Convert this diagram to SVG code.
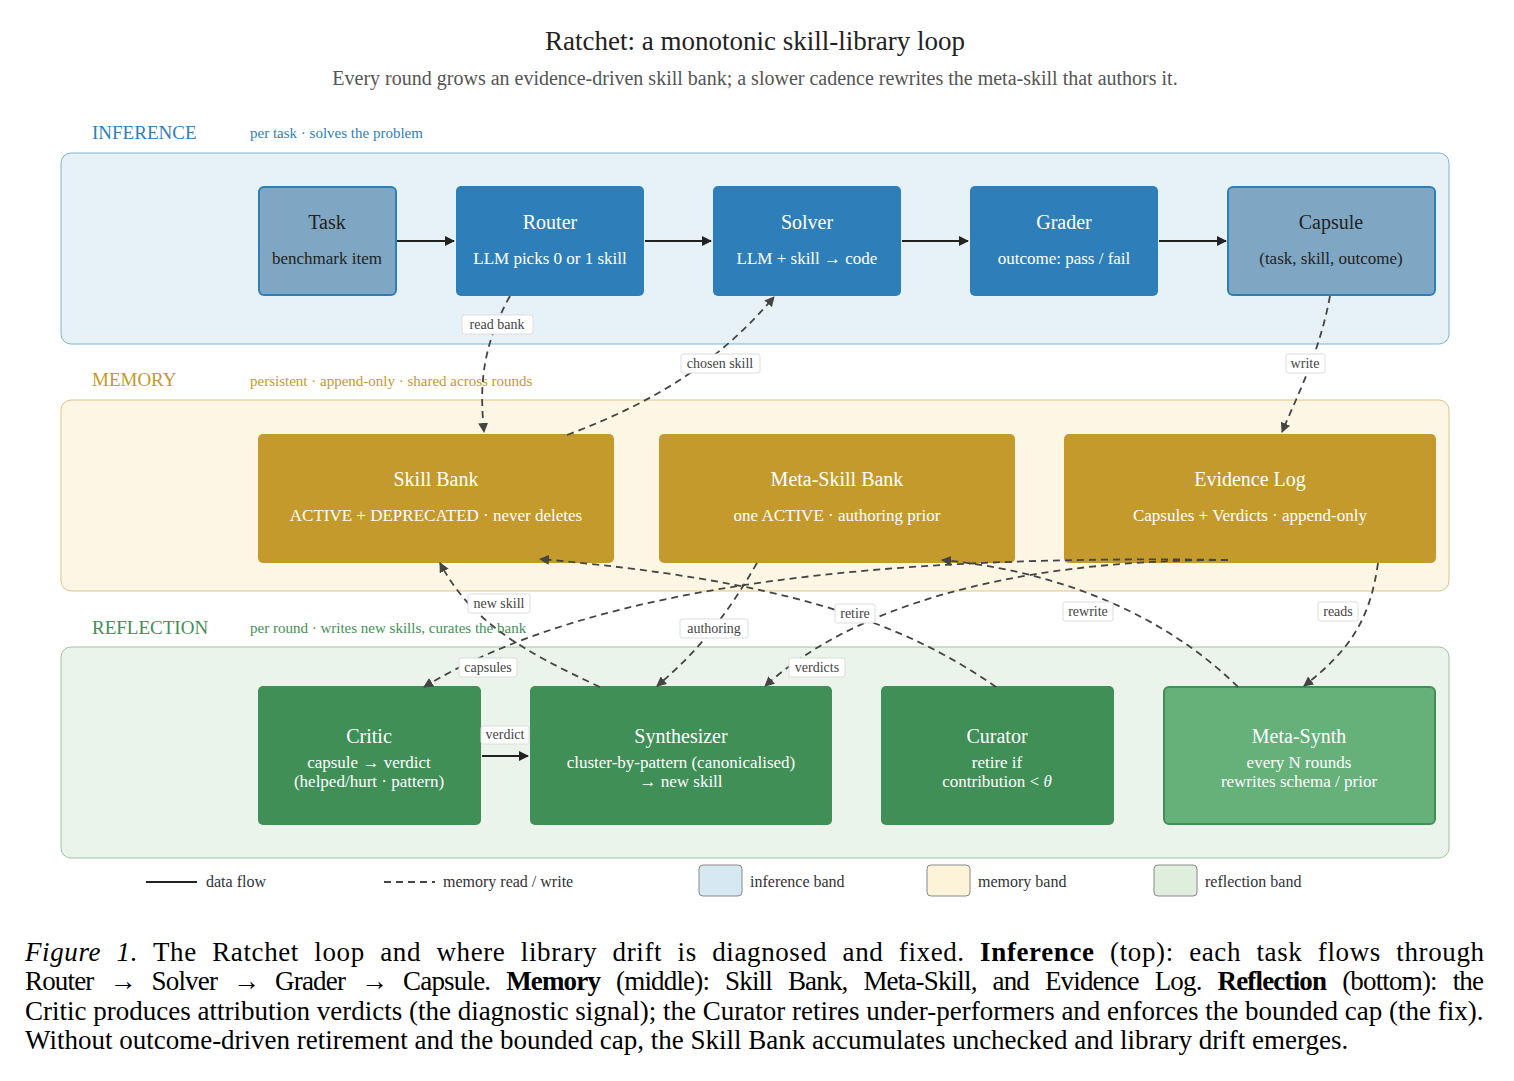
<svg xmlns="http://www.w3.org/2000/svg" width="1514" height="1081" viewBox="0 0 1514 1081">
<defs>
<marker id="ah" viewBox="0 0 10 10" refX="9" refY="5" markerWidth="10" markerHeight="10" markerUnits="userSpaceOnUse" orient="auto"><path d="M0,0L10,5L0,10z" fill="#222"/></marker>
<marker id="ahd" viewBox="0 0 10 10" refX="9" refY="5" markerWidth="10" markerHeight="10" markerUnits="userSpaceOnUse" orient="auto"><path d="M0,0L10,5L0,10z" fill="#444"/></marker>
<style>
text{font-family:"Liberation Serif","DejaVu Serif",serif}
.t{font-size:20px;text-anchor:middle}
.s{font-size:17px;text-anchor:middle}
.w{fill:#fff}
.k{fill:#222}
.lab{font-size:14px;fill:#444;text-anchor:middle}
.lb{fill:#fff;stroke:#ddd;stroke-width:1}
.solid{stroke:#222;stroke-width:2.2;fill:none;marker-end:url(#ah)}
.dash{stroke:#444;stroke-width:1.8;fill:none;stroke-dasharray:7,5;marker-end:url(#ahd)}
.leg{font-size:16px;fill:#333}
.cap{font-size:27px;fill:#000}
</style>
</defs>
<rect width="1514" height="1081" fill="#fff"/>
<text x="755" y="50" font-size="27" text-anchor="middle" fill="#222">Ratchet: a monotonic skill-library loop</text>
<text x="755" y="85" font-size="20" text-anchor="middle" fill="#555">Every round grows an evidence-driven skill bank; a slower cadence rewrites the meta-skill that authors it.</text>

<g id="bands">
<rect x="61" y="153" width="1388" height="191" rx="10" fill="#e7f2f8" stroke="#7fb3d5"/>
<rect x="61" y="400" width="1388" height="191" rx="10" fill="#fdf6e4" stroke="#dcc58a"/>
<rect x="61" y="647" width="1388" height="211" rx="10" fill="#ebf4eb" stroke="#9cc4a0"/>
<text x="92" y="139" font-size="19" fill="#2e7fb9">INFERENCE</text>
<text x="250" y="138" font-size="15" fill="#2e7fb9">per task · solves the problem</text>
<text x="92" y="386" font-size="19" fill="#c49a2c">MEMORY</text>
<text x="250" y="386" font-size="15" fill="#c49a2c">persistent · append-only · shared across rounds</text>
<text x="92" y="634" font-size="19" fill="#3f8f57">REFLECTION</text>
<text x="250" y="633" font-size="15" fill="#3f8f57">per round · writes new skills, curates the bank</text>
</g>

<g id="task"><rect x="259" y="187" width="137" height="108" rx="5" fill="#7fa7c4" stroke="#2e7fb9" stroke-width="2"/><text class="t k" x="327" y="229">Task</text><text class="s k" x="327" y="264">benchmark item</text></g>
<g id="router"><rect x="456" y="186" width="188" height="110" rx="5" fill="#2e7fb9"/><text class="t w" x="550" y="229">Router</text><text class="s w" x="550" y="264">LLM picks 0 or 1 skill</text></g>
<g id="solver"><rect x="713" y="186" width="188" height="110" rx="5" fill="#2e7fb9"/><text class="t w" x="807" y="229">Solver</text><text class="s w" x="807" y="264">LLM + skill → code</text></g>
<g id="grader"><rect x="970" y="186" width="188" height="110" rx="5" fill="#2e7fb9"/><text class="t w" x="1064" y="229">Grader</text><text class="s w" x="1064" y="264">outcome: pass / fail</text></g>
<g id="capsule"><rect x="1228" y="187" width="207" height="108" rx="5" fill="#7fa7c4" stroke="#2e7fb9" stroke-width="2"/><text class="t k" x="1331" y="229">Capsule</text><text class="s k" x="1331" y="264">(task, skill, outcome)</text></g>

<g id="skillbank"><rect x="258" y="434" width="356" height="129" rx="5" fill="#c49a2c"/><text class="t w" x="436" y="486">Skill Bank</text><text class="s w" x="436" y="521">ACTIVE + DEPRECATED · never deletes</text></g>
<g id="metaskill"><rect x="659" y="434" width="356" height="129" rx="5" fill="#c49a2c"/><text class="t w" x="837" y="486">Meta-Skill Bank</text><text class="s w" x="837" y="521">one ACTIVE · authoring prior</text></g>
<g id="evidence"><rect x="1064" y="434" width="372" height="129" rx="5" fill="#c49a2c"/><text class="t w" x="1250" y="486">Evidence Log</text><text class="s w" x="1250" y="521">Capsules + Verdicts · append-only</text></g>

<g id="critic"><rect x="258" y="686" width="223" height="139" rx="5" fill="#3f8f57"/><text class="t w" x="369" y="743">Critic</text><text class="s w" x="369" y="768">capsule → verdict</text><text class="s w" x="369" y="787">(helped/hurt · pattern)</text></g>
<g id="synth"><rect x="530" y="686" width="302" height="139" rx="5" fill="#3f8f57"/><text class="t w" x="681" y="743">Synthesizer</text><text class="s w" x="681" y="768">cluster-by-pattern (canonicalised)</text><text class="s w" x="681" y="787">→ new skill</text></g>
<g id="curator"><rect x="881" y="686" width="233" height="139" rx="5" fill="#3f8f57"/><text class="t w" x="997" y="743">Curator</text><text class="s w" x="997" y="768">retire if</text><text class="s w" x="997" y="787">contribution &lt; <tspan font-style="italic">θ</tspan></text></g>
<g id="metasynth"><rect x="1164" y="687" width="271" height="137" rx="5" fill="#66b07a" stroke="#3f8f57" stroke-width="2"/><text class="t w" x="1299" y="743">Meta-Synth</text><text class="s w" x="1299" y="768">every N rounds</text><text class="s w" x="1299" y="787">rewrites schema / prior</text></g>

<g id="connectors">
<path class="solid" d="M397,241H454"/>
<path class="solid" d="M645,241H711"/>
<path class="solid" d="M902,241H968"/>
<path class="solid" d="M1159,241H1226"/>
<path class="solid" d="M482,756H528"/>
<path class="dash" d="M510,296C480,350 480,390 484,432"/>
<path class="dash" d="M567,435C660,400 720,360 774,297"/>
<path class="dash" d="M1330,296C1320,350 1300,390 1282,432"/>
<path class="dash" d="M600,687C520,650 470,620 440,563"/>
<path class="dash" d="M757,563C730,610 700,650 657,686"/>
<path class="dash" d="M996,687C900,620 780,580 540,559"/>
<path class="dash" d="M1238,687C1160,610 1050,570 942,560"/>
<path class="dash" d="M1378,563C1370,620 1350,650 1304,686"/>
<path class="dash" d="M1228,560C900,555 600,580 424,687"/>
<path class="dash" d="M1228,560C1000,560 850,610 765,686"/>
<rect class="lb" x="462" y="315" width="71" height="19" rx="2"/><text class="lab" x="497" y="329">read bank</text>
<rect class="lb" x="681" y="354" width="79" height="19" rx="2"/><text class="lab" x="720" y="368">chosen skill</text>
<rect class="lb" x="1286" y="354" width="39" height="19" rx="2"/><text class="lab" x="1305" y="368">write</text>
<rect class="lb" x="468" y="594" width="62" height="19" rx="2"/><text class="lab" x="499" y="608">new skill</text>
<rect class="lb" x="680" y="619" width="68" height="19" rx="2"/><text class="lab" x="714" y="633">authoring</text>
<rect class="lb" x="835" y="604" width="40" height="19" rx="2"/><text class="lab" x="855" y="618">retire</text>
<rect class="lb" x="1063" y="602" width="50" height="19" rx="2"/><text class="lab" x="1088" y="616">rewrite</text>
<rect class="lb" x="1318" y="602" width="40" height="19" rx="2"/><text class="lab" x="1338" y="616">reads</text>
<rect class="lb" x="459" y="658" width="58" height="19" rx="2"/><text class="lab" x="488" y="672">capsules</text>
<rect class="lb" x="789" y="658" width="56" height="19" rx="2"/><text class="lab" x="817" y="672">verdicts</text>
<rect class="lb" x="481" y="726" width="48" height="18" rx="2"/><text class="lab" x="505" y="739">verdict</text>
</g>

<g id="legend">
<path d="M146,882H197" stroke="#222" stroke-width="2.2"/><text class="leg" x="206" y="887">data flow</text>
<path d="M384,882H435" stroke="#444" stroke-width="1.8" stroke-dasharray="7,5"/><text class="leg" x="443" y="887">memory read / write</text>
<rect x="699" y="865" width="43" height="31" rx="4" fill="#d6e9f3" stroke="#888"/><text class="leg" x="750" y="887">inference band</text>
<rect x="927" y="865" width="43" height="31" rx="4" fill="#fdf3d8" stroke="#888"/><text class="leg" x="978" y="887">memory band</text>
<rect x="1154" y="865" width="43" height="31" rx="4" fill="#e0eedd" stroke="#888"/><text class="leg" x="1205" y="887">reflection band</text>
</g>

<g id="caption" class="cap">
<text x="25" y="961" textLength="1459" lengthAdjust="spacing" word-spacing="8"><tspan font-style="italic">Figure 1.</tspan>  The Ratchet loop and where library drift is diagnosed and fixed.  <tspan font-weight="bold">Inference</tspan> (top):  each task flows through</text>
<text x="25" y="990" textLength="1459" lengthAdjust="spacing" word-spacing="10">Router → Solver → Grader → Capsule.  <tspan font-weight="bold">Memory</tspan> (middle):  Skill Bank, Meta-Skill, and Evidence Log.  <tspan font-weight="bold">Reflection</tspan> (bottom):  the</text>
<text x="25" y="1020">Critic produces attribution verdicts (the diagnostic signal); the Curator retires under-performers and enforces the bounded cap (the fix).</text>
<text x="25" y="1049">Without outcome-driven retirement and the bounded cap, the Skill Bank accumulates unchecked and library drift emerges.</text>
</g>
</svg>
